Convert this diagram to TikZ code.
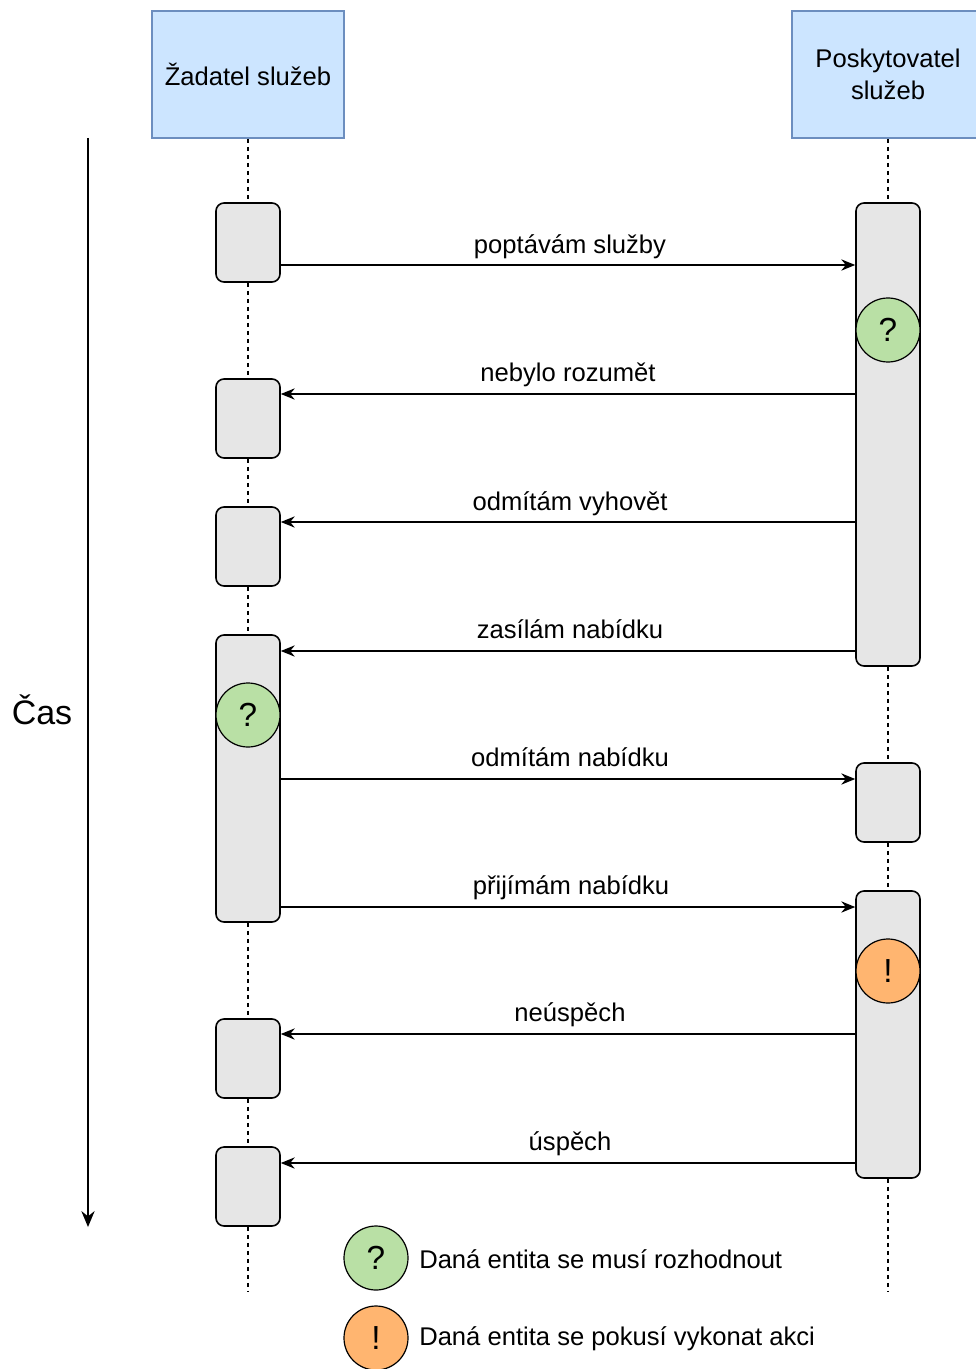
\documentclass[tikz,border=0pt]{standalone}
\usepackage{fontspec}
\setmainfont{Liberation Sans}
\usetikzlibrary{arrows.meta,calc}
\definecolor{hdrfill}{HTML}{CCE5FF}
\definecolor{hdrdraw}{HTML}{6C8EBF}
\definecolor{actfill}{HTML}{E6E6E6}
\definecolor{grnfill}{HTML}{B9E0A5}
\definecolor{orgfill}{HTML}{FFB570}
\begin{document}
\begin{tikzpicture}[x=0.75pt,y=-0.75pt,
  font=\fontsize{19.2}{24}\selectfont,
  header/.style={draw=hdrdraw,fill=hdrfill,line width=1.2pt,minimum width=144pt,minimum height=95.25pt,inner sep=0pt,align=center},
  act/.style={draw=black,fill=actfill,line width=1.2pt,rounded corners=6pt,minimum width=48pt,inner sep=0pt},
  decide/.style={circle,draw=black,fill=grnfill,line width=0.9pt,minimum size=48pt,inner sep=0pt,font=\fontsize{25}{30}\selectfont},
  attempt/.style={circle,draw=black,fill=orgfill,line width=0.9pt,minimum size=48pt,inner sep=0pt,font=\fontsize{25}{30}\selectfont},
  life/.style={draw=black,line width=0.9pt,dash pattern=on 3pt off 3pt},
  msg/.style={draw=black,line width=0.9pt,-{Stealth[length=10.5pt,width=8.5pt,inset=3.5pt]}},
  lbl/.style={inner sep=0pt,anchor=base}
]
\useasboundingbox (0,0) rectangle (975,1369);
% headers
\node[header] (h1) at (248,74.5) {Žadatel služeb};
\node[header] (h2) at (888,74.5) {Poskytovatel\\služeb};
% lifelines
\coordinate (e1) at (248,1292);
\coordinate (e2) at (888,1292);
\draw[life] (h1.south) -- (e1);
\draw[life] (h2.south) -- (e2);
% time axis
\coordinate (t0) at (88,138);
\coordinate (t1) at (88,1227);
\draw[line width=1.2pt,-{Stealth[length=12pt,width=10pt,inset=4pt]}] (t0) -- (t1);
\node (cas) at (42,710) {\fontsize{25.5}{30}\selectfont Čas};
% left activations
\node[act,minimum height=59.25pt] (a1) at (248,242.5) {};
\node[act,minimum height=59.25pt] (a2) at (248,418.5) {};
\node[act,minimum height=59.25pt] (a3) at (248,546.5) {};
\node[act,minimum height=215.25pt] (a4) at (248,778.5) {};
\node[act,minimum height=59.25pt] (a5) at (248,1058.5) {};
\node[act,minimum height=59.25pt] (a6) at (248,1186.5) {};
% right activations
\node[act,minimum height=347.25pt] (b1) at (888,434.5) {};
\node[act,minimum height=59.25pt] (b2) at (888,802.5) {};
\node[act,minimum height=215.25pt] (b3) at (888,1034.5) {};
% circles
\node[decide] (q1) at (888,330) {?};
\node[decide] (q2) at (248,715) {?};
\node[attempt] (x1) at (888,971) {!};
% messages
\draw[msg] (a1.east |- 0,265) -- (b1.west |- 0,265);
\node[lbl] (m1) at (570,254) {poptávám služby};
\draw[msg] (b1.west |- 0,394) -- (a2.east |- 0,394);
\node[lbl] (m2) at (568,381) {nebylo rozumět};
\draw[msg] (b1.west |- 0,522) -- (a3.east |- 0,522);
\node[lbl] (m3) at (570,510) {odmítám vyhovět};
\draw[msg] (b1.west |- 0,651) -- (a4.east |- 0,651);
\node[lbl] (m4) at (570,638) {zasílám nabídku};
\draw[msg] (a4.east |- 0,779) -- (b2.west |- 0,779);
\node[lbl] (m5) at (570,766) {odmítám nabídku};
\draw[msg] (a4.east |- 0,907) -- (b3.west |- 0,907);
\node[lbl] (m6) at (571,894) {přijímám nabídku};
\draw[msg] (b3.west |- 0,1034) -- (a5.east |- 0,1034);
\node[lbl] (m7) at (570,1021) {neúspěch};
\draw[msg] (b3.west |- 0,1163) -- (a6.east |- 0,1163);
\node[lbl] (m8) at (570,1150) {úspěch};
% legend
\node[decide] (lq) at (376,1258) {?};
\node[attempt] (lx) at (376,1338) {!};
\node[anchor=west,inner sep=0pt] (lt1) at (419,1259) {Daná entita se musí rozhodnout};
\node[anchor=west,inner sep=0pt] (lt2) at (419,1339) {Daná entita se pokusí vykonat akci};
\end{tikzpicture}
\end{document}
